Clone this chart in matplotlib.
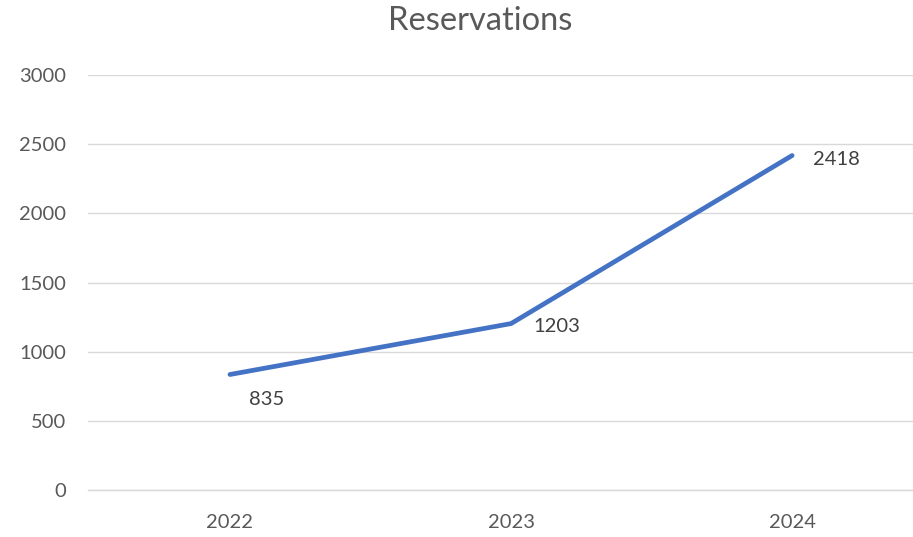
import matplotlib
matplotlib.use("Agg")
import matplotlib.pyplot as plt

years = ["2022", "2023", "2024"]
reservations = [835, 1203, 2418]
yticks = [0, 500, 1000, 1500, 2000, 2500, 3000]

plt.rcParams['font.family'] = ['Lato', 'DejaVu Sans']

fig = plt.figure(figsize=(9.13, 5.37), dpi=100)
ax = fig.add_axes([88/913, 1-490/537, 1-88/913, (490-75)/537])
x = list(range(len(years)))
ax.plot(x, reservations, color='#4472C4', lw=3.4, solid_capstyle='round', zorder=3)
ax.set_xlim(-0.505, 2.43)
ax.set_ylim(0, 3000)
ax.set_yticks(yticks)
ax.set_yticklabels([str(v) for v in yticks])
ax.set_xticks(x)
ax.set_xticklabels(years)
ax.grid(axis='y', color='#D9D9D9', lw=1)
ax.axhline(0, color='#D9D9D9', lw=1, clip_on=False, zorder=1)
ax.set_axisbelow(True)
for s in ax.spines.values():
    s.set_visible(False)
ax.tick_params(length=0, colors='#595959', labelsize=14.5)
ax.tick_params(axis='y', pad=16)
ax.tick_params(axis='x', pad=17)

offsets = [(14, -18), (16, -2), (15, -3)]
for xi, v, off in zip(x, reservations, offsets):
    ax.annotate(str(v), (xi, v), xytext=off, textcoords='offset points',
                ha='left', va='center', color='#404040', fontsize=14.5)

fig.text(480/913, 1-21/537, "Reservations", ha='center', va='center',
         fontsize=23.5, color='#595959')
fig.savefig("out.png", dpi=100)
